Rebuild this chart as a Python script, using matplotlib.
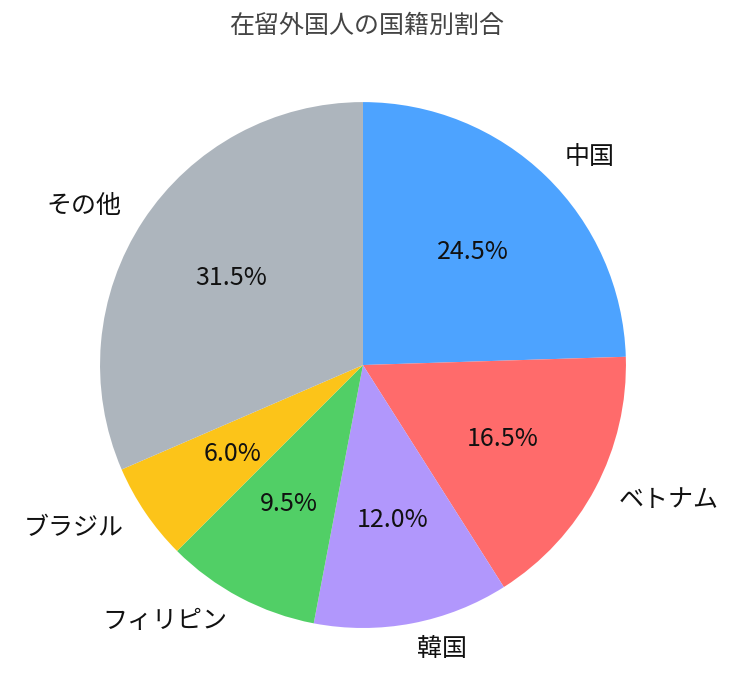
import matplotlib.pyplot as plt

plt.rcParams['font.family'] = ['Noto Sans CJK JP', 'DejaVu Sans']

labels = ["中国", "ベトナム", "韓国", "フィリピン", "ブラジル", "その他"]
shares = [24.5, 16.5, 12.0, 9.5, 6.0, 31.5]
colors = ["#4dA3ff", "#ff6b6b", "#b197fc", "#51cf66", "#fcc419", "#adb5bd"]

fig = plt.figure(figsize=(7.33, 6.77), dpi=100)
ax = fig.add_axes([0.0467, -0.0247, 0.897, 0.971])

ax.pie(shares, labels=labels, colors=colors, autopct='%1.1f%%',
       startangle=90, counterclock=False,
       textprops={'fontsize': 18, 'color': '#111111'})
ax.set_aspect('equal')

fig.text(0.5, 0.962, "在留外国人の国籍別割合", ha='center', va='center',
         fontsize=18, color='#444444')

fig.savefig("out.png", dpi=100)
